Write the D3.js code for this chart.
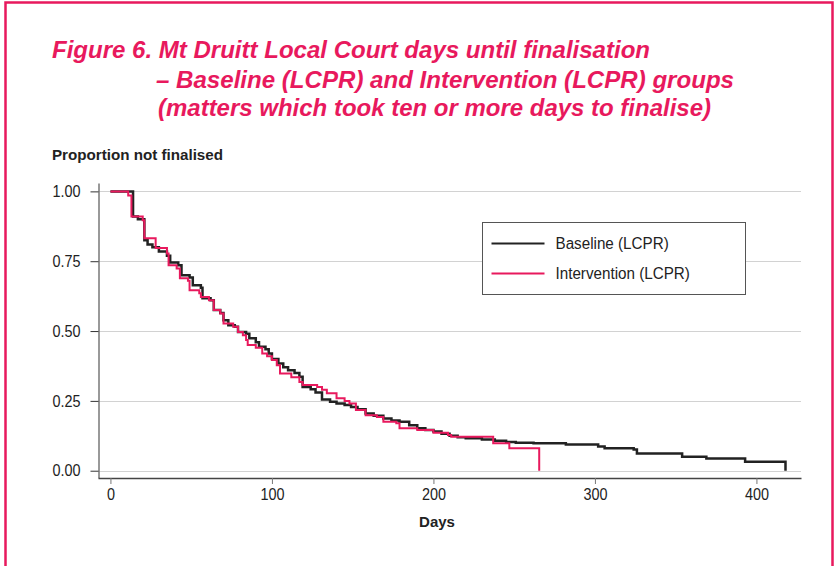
<!DOCTYPE html>
<html>
<head>
<meta charset="utf-8">
<script src="https://cdn.jsdelivr.net/npm/d3@7"></script>
<style>
  body { margin: 0; background: #fff; }
  text { font-family: "Liberation Sans", Arial, sans-serif; }
</style>
</head>
<body>
<div id="chart"></div>
<script>
// survival curves: [day, proportion not finalised]
const baseline = [
  [0, 1.00], [14, 0.91], [17, 0.90], [21, 0.825], [23, 0.81], [26, 0.80], [30, 0.785],
  [35, 0.77], [37, 0.745], [42, 0.736], [44, 0.70], [49, 0.692], [51, 0.664], [56, 0.655],
  [57, 0.617], [62, 0.61], [64, 0.575], [68, 0.565], [70, 0.539], [73, 0.521], [77, 0.515],
  [79, 0.497], [84, 0.49], [86, 0.474], [90, 0.46], [92, 0.444], [96, 0.435], [98, 0.42],
  [100, 0.40], [104, 0.384], [107, 0.37], [110, 0.36], [114, 0.35], [117, 0.336], [119, 0.30],
  [124, 0.292], [127, 0.28], [131, 0.255], [136, 0.247], [140, 0.241], [145, 0.235],
  [149, 0.228], [153, 0.22], [158, 0.205], [163, 0.197], [169, 0.187], [174, 0.18],
  [179, 0.175], [185, 0.163], [190, 0.152], [195, 0.146], [200, 0.14], [205, 0.132],
  [210, 0.125], [215, 0.12], [220, 0.116], [230, 0.112], [238, 0.107], [245, 0.103],
  [251, 0.10], [262, 0.098], [282, 0.094], [302, 0.087], [306, 0.08], [324, 0.076],
  [326, 0.062], [354, 0.05], [369, 0.044], [393, 0.032], [418, 0.0]
];
const intervention = [
  [0, 1.00], [11, 0.985], [13, 0.91], [20, 0.897], [21, 0.832], [28, 0.797], [35, 0.778],
  [36, 0.736], [41, 0.724], [43, 0.689], [48, 0.68], [49, 0.646], [55, 0.635], [56, 0.622],
  [61, 0.61], [64, 0.575], [68, 0.563], [70, 0.527], [76, 0.515], [79, 0.497], [82, 0.485],
  [84, 0.468], [85, 0.45], [90, 0.44], [94, 0.42], [97, 0.41], [100, 0.396], [103, 0.378],
  [105, 0.348], [112, 0.335], [117, 0.318], [119, 0.307], [128, 0.30], [131, 0.29],
  [134, 0.277], [140, 0.259], [145, 0.25], [148, 0.241], [152, 0.217], [158, 0.199],
  [165, 0.192], [169, 0.175], [177, 0.17], [179, 0.152], [190, 0.146], [200, 0.136],
  [209, 0.128], [211, 0.122], [237, 0.098], [247, 0.08], [265.5, 0.0]
];
const seriesNames = ['Baseline (LCPR)', 'Intervention (LCPR)'];
const yTicks = [0, 0.25, 0.5, 0.75, 1];
const xTicks = [0, 100, 200, 300, 400];
const titleLines = [
  'Figure 6. Mt Druitt Local Court days until finalisation',
  '– Baseline (LCPR) and Intervention (LCPR) groups',
  '(matters which took ten or more days to finalise)'
];

const width = 835;
const height = 566;
const pink = '#e8195d';

// squeeze text a little, the original uses a narrow face
function narrow(sel, k) {
  sel.each(function() {
    this.setAttribute('textLength', this.getComputedTextLength() * k);
    this.setAttribute('lengthAdjust', 'spacingAndGlyphs');
  });
}

const svg = d3.select('#chart')
    .append('svg')
    .attr('width', width)
    .attr('height', height);

// frame around the figure
svg.append('rect')
    .attr('x', 5.5)
    .attr('y', 2.5)
    .attr('width', 827)
    .attr('height', 620)
    .attr('fill', 'none')
    .attr('stroke', pink)
    .attr('stroke-width', 2.5);

// title
const titlePos = [[52, 58, 598], [156, 88, 578], [158, 116, 553]];
svg.selectAll('text.title')
    .data(titleLines)
    .enter()
    .append('text')
    .attr('class', 'title')
    .attr('x', (d, i) => titlePos[i][0])
    .attr('y', (d, i) => titlePos[i][1])
    .attr('textLength', (d, i) => titlePos[i][2])
    .attr('lengthAdjust', 'spacingAndGlyphs')
    .style('font-size', '23px')
    .style('font-weight', 'bold')
    .style('font-style', 'italic')
    .style('fill', pink)
    .text(d => d);

const x = d3.scaleLinear().domain([-7.7, 427.6]).range([98, 801]);
const y = d3.scaleLinear().domain([-0.025, 1.03]).range([477.7, 183]);

// gridlines
svg.append('g')
    .selectAll('line')
    .data(yTicks)
    .enter()
    .append('line')
    .attr('x1', 98)
    .attr('x2', 801)
    .attr('y1', d => Math.round(y(d)) + 0.5)
    .attr('y2', d => Math.round(y(d)) + 0.5)
    .attr('stroke', '#d2d2d2')
    .attr('stroke-width', 1.2);

// y axis
const yAxis = svg.append('g')
    .attr('transform', 'translate(98.5,0)')
    .call(d3.axisLeft(y).tickValues(yTicks).tickFormat(d3.format('.2f')).tickSize(8).tickSizeOuter(0).tickPadding(10));
yAxis.select('.domain').attr('stroke', '#777').attr('stroke-width', 1.5);
yAxis.selectAll('.tick line').attr('stroke', '#333');
yAxis.selectAll('.tick text')
    .style('font-size', '16px')
    .style('font-family', '"Liberation Sans", Arial, sans-serif')
    .attr('fill', '#222')
    .call(narrow, 0.9);

// x axis
const xAxis = svg.append('g')
    .attr('transform', 'translate(0,478)')
    .call(d3.axisBottom(x).tickValues(xTicks).tickSize(6).tickSizeOuter(0).tickPadding(5));
xAxis.select('.domain').attr('stroke', '#444').attr('stroke-width', 1.5);
xAxis.selectAll('.tick line').attr('stroke', '#777');
xAxis.selectAll('.tick text')
    .style('font-size', '16px')
    .style('font-family', '"Liberation Sans", Arial, sans-serif')
    .attr('fill', '#222')
    .call(narrow, 0.9);

// axis titles
svg.append('text')
    .attr('x', 52)
    .attr('y', 160)
    .attr('textLength', 171)
    .attr('lengthAdjust', 'spacingAndGlyphs')
    .style('font-size', '15px')
    .style('font-weight', 'bold')
    .style('fill', '#222')
    .text('Proportion not finalised');

svg.append('text')
    .attr('x', 437)
    .attr('y', 527)
    .attr('text-anchor', 'middle')
    .style('font-size', '15px')
    .style('font-weight', 'bold')
    .style('fill', '#222')
    .text('Days');

// step curves
const line = d3.line()
    .x(d => x(d[0]))
    .y(d => y(d[1]))
    .curve(d3.curveStepAfter);

svg.append('path')
    .datum(baseline)
    .attr('d', line)
    .attr('fill', 'none')
    .attr('stroke', '#222')
    .attr('stroke-width', 2.5);

svg.append('path')
    .datum(intervention)
    .attr('d', line)
    .attr('fill', 'none')
    .attr('stroke', pink)
    .attr('stroke-width', 2);

// legend
const legend = svg.append('g').attr('transform', 'translate(482.5,222.5)');
legend.append('rect')
    .attr('width', 263)
    .attr('height', 72)
    .attr('fill', '#fff')
    .attr('stroke', '#555')
    .attr('stroke-width', 1);

const colors = ['#222', pink];
seriesNames.forEach((name, i) => {
  legend.append('line')
      .attr('x1', 9)
      .attr('x2', 62)
      .attr('y1', 21 + i * 30)
      .attr('y2', 21 + i * 30)
      .attr('stroke', colors[i])
      .attr('stroke-width', 2);
  legend.append('text')
      .attr('x', 73)
      .attr('y', 26.5 + i * 30)
      .style('font-size', '16px')
      .style('fill', '#222')
      .text(name)
      .call(narrow, 0.95);
});
</script>
</body>
</html>
